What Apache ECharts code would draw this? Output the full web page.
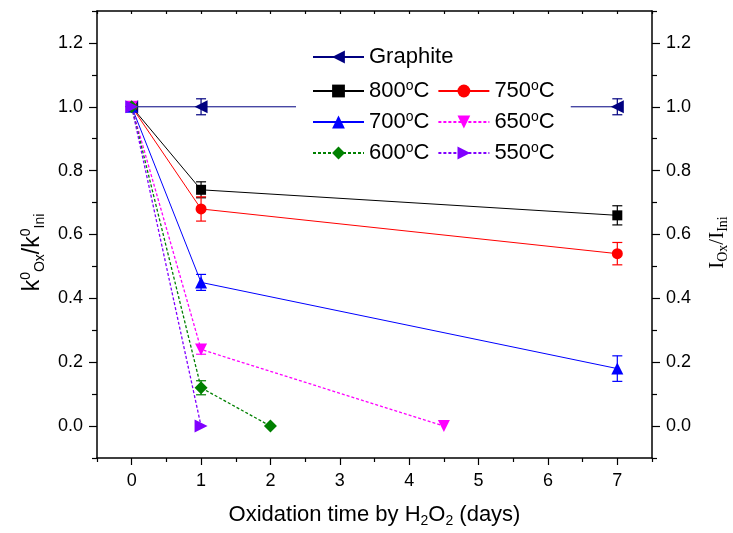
<!DOCTYPE html>
<html><head><meta charset="utf-8">
<script src="https://cdn.jsdelivr.net/npm/echarts@6/dist/echarts.min.js"></script>
<style>html,body{margin:0;padding:0;background:#fff}#c{width:733px;height:533px}</style>
</head><body><div id="c"></div>
<script>
// ---- data ----
const graphiteX = [0, 1, 7];   const graphiteY = [1, 1, 1];          const graphiteErr = [0, 0.025, 0.025];
const t800X = [0, 1, 7];       const t800Y = [1, 0.74, 0.66];        const t800Err = [0, 0.025, 0.03];
const t750X = [0, 1, 7];       const t750Y = [1, 0.68, 0.54];        const t750Err = [0, 0.038, 0.035];
const t700X = [0, 1, 7];       const t700Y = [1, 0.45, 0.18];        const t700Err = [0, 0.025, 0.04];
const t650X = [0, 1, 4.5];     const t650Y = [1, 0.24, 0];           const t650Err = [0, 0.015, 0];
const t600X = [0, 1, 2];       const t600Y = [1, 0.12, 0];           const t600Err = [0, 0.022, 0];
const t550X = [0, 1];          const t550Y = [1, 0];                 const t550Err = [0, 0];

const xMajorTicks = [0, 1, 2, 3, 4, 5, 6, 7];
const xMinorTicks = [-0.5, 0.5, 1.5, 2.5, 3.5, 4.5, 5.5, 6.5, 7.5];
const yMajorTicks = [0, 0.2, 0.4, 0.6, 0.8, 1.0, 1.2];
const yMinorTicks = [-0.1, 0.1, 0.3, 0.5, 0.7, 0.9, 1.1, 1.3];

const legendTop = ['Graphite'];
const legendRest = ['800°C', '750°C', '700°C', '650°C', '600°C', '550°C'];

// ---- styles ----
const FONT = '"Liberation Sans", Arial, sans-serif';
const SERIF = '"Liberation Serif", "Times New Roman", serif';
const defs = [
  {name: 'Graphite', x: graphiteX, y: graphiteY, e: graphiteErr, color: '#000080', symbol: 'triangle', rot: 90, size: 13, dash: 'solid'},
  {name: '800°C', x: t800X, y: t800Y, e: t800Err, color: '#000000', symbol: 'rect', rot: 0, size: 10, dash: 'solid'},
  {name: '750°C', x: t750X, y: t750Y, e: t750Err, color: '#ff0000', symbol: 'circle', rot: 0, size: 11, dash: 'solid'},
  {name: '700°C', x: t700X, y: t700Y, e: t700Err, color: '#0000ff', symbol: 'triangle', rot: 0, size: 12, dash: 'solid'},
  {name: '650°C', x: t650X, y: t650Y, e: t650Err, color: '#ff00ff', symbol: 'triangle', rot: 180, size: 12, dash: [3, 2]},
  {name: '600°C', x: t600X, y: t600Y, e: t600Err, color: '#008000', symbol: 'diamond', rot: 0, size: 13, dash: [3, 2]},
  {name: '550°C', x: t550X, y: t550Y, e: t550Err, color: '#8000ff', symbol: 'triangle', rot: -90, size: 13, dash: [3, 2]}
];

const series = [];
defs.forEach(d => {
  series.push({
    type: 'line', name: d.name, xAxisIndex: 0, yAxisIndex: 0,
    data: d.x.map((v, i) => [v, d.y[i]]),
    symbol: d.symbol, symbolRotate: d.rot, symbolSize: d.size,
    itemStyle: {color: d.color},
    lineStyle: {color: d.color, width: d.dash === 'solid' ? 1 : 1.3, type: d.dash},
    z: 3, animation: false
  });
  series.push({
    type: 'custom', name: d.name + '_err', xAxisIndex: 0, yAxisIndex: 0, z: 3, silent: true,
    data: d.x.map((v, i) => [v, d.y[i], d.e[i]]).filter(r => r[2] > 0),
    renderItem: function (params, api) {
      const x = api.value(0), y = api.value(1), e = api.value(2);
      const p1 = api.coord([x, y + e]), p2 = api.coord([x, y - e]);
      const w = 5;
      const st = {stroke: d.color, lineWidth: 1.2};
      return {type: 'group', children: [
        {type: 'line', shape: {x1: p1[0], y1: p1[1], x2: p2[0], y2: p2[1]}, style: st},
        {type: 'line', shape: {x1: p1[0] - w, y1: p1[1], x2: p1[0] + w, y2: p1[1]}, style: st},
        {type: 'line', shape: {x1: p2[0] - w, y1: p2[1], x2: p2[0] + w, y2: p2[1]}, style: st}
      ]};
    },
    animation: false
  });
});

const tickLabel = {fontFamily: FONT, fontSize: 18, color: '#000'};
const legendText = {
  fontFamily: FONT, fontSize: 22, color: '#000',
  rich: {
    n: {fontFamily: FONT, fontSize: 22, lineHeight: 24, color: '#000'},
    s: {fontFamily: FONT, fontSize: 14, lineHeight: 14, verticalAlign: 'top', color: '#000'}
  }
};
const legendFmt = name => name === 'Graphite' ? '{n|Graphite}' : '{n|' + name.replace('°C', '') + '}{s|o}{n|C}';

function yAx(pos, major, withLabel, name, nameStyle, gap) {
  return {
    type: 'value', position: pos, min: -0.1, max: 1.3, offset: 0,
    axisLine: {show: major, onZero: false, lineStyle: {color: '#000', width: 1.5}},
    axisTick: {show: true, inside: false, length: major ? 8 : 5, lineStyle: {color: '#000', width: 1.2},
      customValues: major ? yMajorTicks : yMinorTicks},
    axisLabel: withLabel ? Object.assign({show: true, margin: 14, customValues: yMajorTicks,
      formatter: v => Number(v).toFixed(1)}, tickLabel) : {show: false},
    splitLine: {show: false},
    name: name || '', nameLocation: 'middle', nameRotate: 90, nameGap: gap || 0,
    nameTextStyle: nameStyle || {}
  };
}

const option = {
  backgroundColor: '#fff',
  animation: false,
  grid: {left: 97, right: 81, top: 11, bottom: 75, containLabel: false, outerBoundsMode: 'none'},
  legend: [
    {data: legendTop, left: 296, top: 42, orient: 'horizontal', itemWidth: 51, itemHeight: 16, itemGap: 8,
      padding: [4, 110, 4, 16], backgroundColor: '#fff', textStyle: legendText, formatter: legendFmt, z: 10, selectedMode: false},
    {data: legendRest, left: 296, top: 75, orient: 'horizontal', width: 252, itemWidth: 51, itemHeight: 16, itemGap: 8,
      padding: [4, 16, 8, 16], backgroundColor: '#fff', textStyle: legendText, formatter: legendFmt, z: 10, selectedMode: false}
  ],
  xAxis: [
    {type: 'value', position: 'bottom', min: -0.5, max: 7.5, offset: 0,
      axisLine: {show: true, onZero: false, lineStyle: {color: '#000', width: 1.5}},
      axisTick: {show: true, inside: false, length: 7, lineStyle: {color: '#000', width: 1.2}, customValues: xMajorTicks},
      axisLabel: Object.assign({show: true, margin: 14, customValues: xMajorTicks}, tickLabel),
      splitLine: {show: false},
      name: '{m|Oxidation time by H}{sb|2}{m|O}{sb|2}{m| (days)}', nameLocation: 'middle', nameGap: 44,
      nameTextStyle: {fontFamily: FONT, fontSize: 22, color: '#000', rich: {
        m: {fontFamily: FONT, fontSize: 22, lineHeight: 26, color: '#000'},
        sb: {fontFamily: FONT, fontSize: 14, lineHeight: 14, verticalAlign: 'bottom', color: '#000'}}}
    },
    {type: 'value', position: 'bottom', min: -0.5, max: 7.5, offset: 0,
      axisLine: {show: false, onZero: false},
      axisTick: {show: true, inside: false, length: 4, lineStyle: {color: '#000', width: 1.2}, customValues: xMinorTicks},
      axisLabel: {show: false}, splitLine: {show: false}},
    {type: 'value', position: 'top', min: -0.5, max: 7.5, offset: 0,
      axisLine: {show: true, onZero: false, lineStyle: {color: '#000', width: 1.5}},
      axisTick: {show: true, inside: true, length: 3, lineStyle: {color: '#000', width: 1.2},
        customValues: xMajorTicks.concat(xMinorTicks)},
      axisLabel: {show: false}, splitLine: {show: false}}
  ],
  yAxis: [
    yAx('left', true, true, '{m|k}{sp|0}{sb|Ox}{m|/k}{sp|0}{sb|Ini}', {
      fontFamily: FONT, fontSize: 22, color: '#000', padding: [0, 36, 0, 0], rich: {
        m: {fontFamily: FONT, fontSize: 23, lineHeight: 28, color: '#000'},
        sp: {fontFamily: FONT, fontSize: 14, lineHeight: 14, verticalAlign: 'top', color: '#000'},
        sb: {fontFamily: FONT, fontSize: 14, lineHeight: 14, verticalAlign: 'bottom', color: '#000'}}}, 50),
    yAx('left', false, false),
    yAx('right', true, true, '{m|I}{sb|Ox}{m|/I}{sb|Ini}', {
      fontFamily: SERIF, fontSize: 21, color: '#000', padding: [0, 16, 0, 0], rich: {
        m: {fontFamily: SERIF, fontSize: 21, lineHeight: 26, color: '#000'},
        sb: {fontFamily: SERIF, fontSize: 14, lineHeight: 14, verticalAlign: 'bottom', color: '#000'}}}, 52),
    yAx('right', false, false)
  ],
  series: series
};

const chart = echarts.init(document.getElementById('c'));
chart.setOption(option);
</script>
</body></html>
